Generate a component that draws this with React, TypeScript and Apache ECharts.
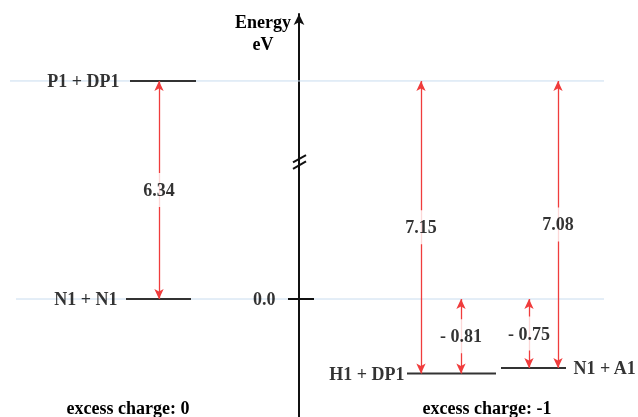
import React, { useEffect, useRef } from "react";
import * as echarts from "echarts";

// ---- data ----
const levelNames = ["P1 + DP1", "N1 + N1", "H1 + DP1", "N1 + A1"];
const levelEnergies = [6.34, 0.0, -0.81, -0.75];
const levelX0 = [-169, -173, 108, 202];
const levelX1 = [-103, -108, 197, 267];
const levelLabelSide = ["left", "left", "left", "right"];
const levelLabelGap = [10, 8, 2, 7];

const gapLabels = ["6.34", "7.15", "7.08", "- 0.81", "- 0.75"];
const gapFrom = [0.0, -0.81, -0.75, 0.0, 0.0];
const gapTo = [6.34, 6.34, 6.34, -0.81, -0.75];
const gapX = [-140, 122, 259, 162, 230];

const refEnergies = [6.34, 0.0];
const refX0 = [-289, -283];
const refX1 = [305, 305];

const axisTickValues = [0.0];
const axisTickLabels = ["0.0"];
const chargeLabels = ["excess charge: 0", "excess charge: -1"];

// axis break: energies above BREAK_AT are shifted down by BREAK_SHIFT
const BREAK_AT = 1.0;
const BREAK_SHIFT = 3.97;
const BREAK_MARK = 1.49;
const disp = (e: number) => (e > BREAK_AT ? e - BREAK_SHIFT : e);

const FONT = "'Liberation Serif', 'Times New Roman', serif";
const RED = "#f03c3c";
const textStyle = {
  fontFamily: FONT,
  fontWeight: "bold" as const,
  fontSize: 18,
  color: "#000",
};

export default function App() {
  const ref = useRef<HTMLDivElement>(null);
  useEffect(() => {
    if (!ref.current) return;
    const chart = echarts.init(ref.current, null, { renderer: "svg" });
    const series: any[] = [];

    // reference light-blue lines
    refEnergies.forEach((e, i) => {
      series.push({
        type: "line",
        data: [
          [refX0[i], disp(e)],
          [refX1[i], disp(e)],
        ],
        symbol: "none",
        lineStyle: { color: "#c8dcef", width: 1 },
        z: 1,
        silent: true,
      });
    });

    // energy levels
    levelNames.forEach((name, i) => {
      const y = disp(levelEnergies[i]);
      series.push({
        type: "line",
        name,
        data: [
          [levelX0[i], y],
          [levelX1[i], y],
        ],
        symbol: "none",
        lineStyle: { color: "#333", width: 2 },
        z: 4,
        silent: true,
      });
      const right = levelLabelSide[i] === "right";
      series.push({
        type: "scatter",
        data: [[right ? levelX1[i] : levelX0[i], y]],
        symbolSize: 1,
        itemStyle: { color: "rgba(0,0,0,0)" },
        label: {
          show: true,
          position: levelLabelSide[i],
          distance: levelLabelGap[i],
          formatter: name,
          ...textStyle,
        },
        z: 6,
        silent: true,
      });
    });

    // arrows
    series.push({
      type: "line",
      data: [],
      z: 3,
      markLine: {
        silent: true,
        animation: false,
        symbol: ["arrow", "arrow"],
        symbolSize: [7, 10],
        label: { show: false },
        lineStyle: { color: RED, width: 1.3, type: "solid" },
        data: gapLabels.map((_, i) => [
          { coord: [gapX[i], disp(gapFrom[i])] },
          { coord: [gapX[i], disp(gapTo[i])] },
        ]),
      },
    });

    // arrow labels
    series.push({
      type: "scatter",
      data: gapLabels.map((t, i) => ({
        value: [gapX[i], (disp(gapFrom[i]) + disp(gapTo[i])) / 2],
        label: { formatter: t },
      })),
      symbolSize: 1,
      itemStyle: { color: "rgba(0,0,0,0)" },
      label: {
        show: true,
        position: "inside",
        backgroundColor: "#fff",
        padding: [8, 3],
        ...textStyle,
      },
      z: 7,
      silent: true,
    });

    // zero tick crossing the axis, with its label
    axisTickValues.forEach((v, i) => {
      series.push({
        type: "line",
        data: [
          [-11, v],
          [15, v],
        ],
        symbol: "none",
        lineStyle: { color: "#111", width: 2 },
        z: 5,
        silent: true,
      });
      series.push({
        type: "scatter",
        data: [[0, v]],
        symbolSize: 1,
        itemStyle: { color: "rgba(0,0,0,0)" },
        label: {
          show: true,
          position: "left",
          distance: 23,
          formatter: axisTickLabels[i],
          ...textStyle,
        },
        z: 6,
        silent: true,
      });
    });

    // axis break marks
    [-0.035, 0.035].forEach((o) => {
      series.push({
        type: "line",
        data: [
          [-6, BREAK_MARK + o - 0.04],
          [7, BREAK_MARK + o + 0.04],
        ],
        symbol: "none",
        lineStyle: { color: "#111", width: 2 },
        z: 5,
        silent: true,
      });
    });

    chart.setOption({
      animation: false,
      grid: {
        left: 0,
        right: 0,
        top: 14,
        bottom: 0,
        containLabel: false,
        outerBoundsMode: "none",
      },
      xAxis: {
        type: "value",
        min: -299,
        max: 339,
        show: false,
      },
      yAxis: {
        type: "value",
        min: -118 / 92,
        max: 285 / 92,
        splitLine: { show: false },
        axisTick: { show: false },
        axisLabel: { show: false },
        axisLine: {
          show: true,
          onZero: true,
          symbol: ["none", "arrow"],
          symbolSize: [8, 11],
          lineStyle: { color: "#111", width: 2 },
        },
      },
      graphic: [
        {
          type: "text",
          x: 263,
          y: 11,
          style: {
            text: "Energy\neV",
            align: "center",
            lineHeight: 22,
            font: `bold 18px ${FONT}`,
            fill: "#000",
          },
        },
        {
          type: "text",
          x: 128,
          y: 408,
          style: {
            text: chargeLabels[0],
            align: "center",
            verticalAlign: "middle",
            font: `bold 18px ${FONT}`,
            fill: "#000",
          },
        },
        {
          type: "text",
          x: 487,
          y: 408,
          style: {
            text: chargeLabels[1],
            align: "center",
            verticalAlign: "middle",
            font: `bold 18px ${FONT}`,
            fill: "#000",
          },
        },
      ],
      series,
    });
    return () => chart.dispose();
  }, []);
  return (
    <div
      ref={ref}
      style={{ position: "fixed", left: 0, top: 0, width: 638, height: 417 }}
    />
  );
}
